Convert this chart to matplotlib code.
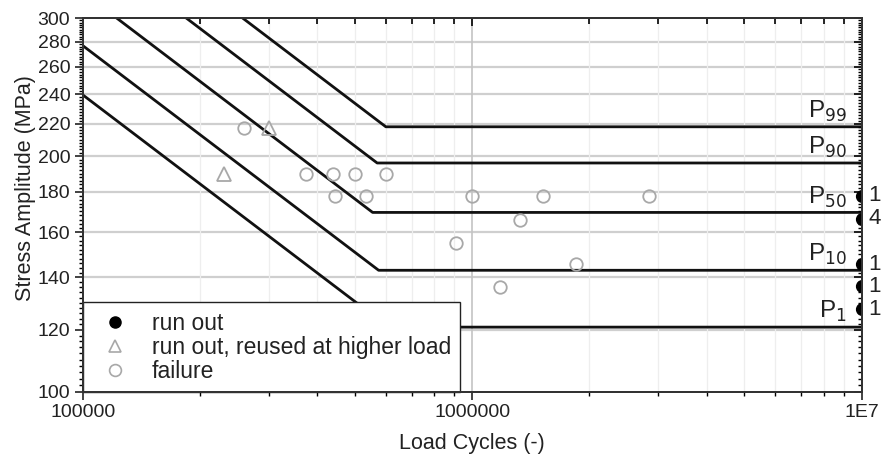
import numpy as np
import matplotlib
matplotlib.use("Agg")
import matplotlib.pyplot as plt
from matplotlib.ticker import FixedLocator, FixedFormatter, NullFormatter
from matplotlib.lines import Line2D

plt.rcParams['font.family'] = ['Liberation Sans', 'DejaVu Sans']
plt.rcParams['text.color'] = '#222222'

# S-N curves: knee (endurance) stress, knee cycles, Basquin exponent
curve_names = ["P$_{99}$", "P$_{90}$", "P$_{50}$", "P$_{10}$", "P$_{1}$"]
knee_stress = [218, 196, 169.5, 143, 121]
knee_cycles = [6.0e5, 5.7e5, 5.55e5, 5.75e5, 6.1e5]
slope_k = 2.65

# failures
fail_n = [2.6e5, 3.75e5, 4.4e5, 5.0e5, 6.0e5, 4.45e5, 5.35e5, 1.0e6, 1.52e6, 2.85e6,
          1.33e6, 9.1e5, 1.85e6, 1.18e6]
fail_s = [217, 190, 190, 190, 190, 178, 178, 178, 178, 178, 166, 155, 145.5, 136]

# run outs reused at higher load
reuse_n = [2.3e5, 3.0e5]
reuse_s = [190, 217]

# run outs at 1E7 with their counts
runout_n = [1e7, 1e7, 1e7, 1e7, 1e7]
runout_s = [178, 166.5, 145.5, 136.5, 127.5]
runout_count = ["1", "4", "1", "1", "1"]

y_major = list(range(100, 301, 20))
y_minor = list(range(100, 301, 2))
x_major = [1e5, 1e6, 1e7]
x_major_labels = ["100000", "1000000", "1E7"]
x_minor = [m * 10 ** e for e in (5, 6) for m in range(2, 10)]

fig = plt.figure(figsize=(8.81, 4.65), dpi=100)
ax = fig.add_axes([0.094, 0.157, 0.884, 0.804])
ax.set_xscale('log')
ax.set_yscale('log')
ax.set_xlim(1e5, 1e7)
ax.set_ylim(100, 300)

# grid
for v in y_major[1:-1]:
    ax.axhline(v, color='#cfcfcf', lw=1.6, zorder=0)
for v in x_minor:
    ax.axvline(v, color='#eeeeee', lw=0.9, zorder=0)
ax.axvline(1e6, color='#c4c4c4', lw=1.2, zorder=0)

# curves
for name, sd, nd in zip(curve_names, knee_stress, knee_cycles):
    n_slope = np.logspace(5, np.log10(nd), 50)
    s_slope = sd * (n_slope / nd) ** (-1.0 / slope_k)
    n = np.concatenate([n_slope, [1e7]])
    s = np.concatenate([s_slope, [sd]])
    ax.plot(n, s, color='#111111', lw=2.0, zorder=3)
    ax.annotate(name, xy=(9.15e6, sd), xytext=(0, 2), textcoords='offset points',
                ha='right', va='bottom', fontsize=17.5, color='#222222', zorder=4)

gray = '#a8a8a8'
ax.plot(fail_n, fail_s, 'o', ms=9, mfc='none', mec=gray, mew=1.3, zorder=5)
ax.plot(reuse_n, reuse_s, '^', ms=10, mfc='none', mec=gray, mew=1.3, zorder=5)
ax.plot(runout_n, runout_s, 'o', ms=8.5, color='black', zorder=6, clip_on=True)
for n, s, c in zip(runout_n, runout_s, runout_count):
    ax.annotate(c, xy=(n, s), xytext=(5, 0), textcoords='offset points',
                ha='left', va='center', fontsize=16, color='#222222',
                annotation_clip=False)

# axes and ticks
ax.xaxis.set_major_locator(FixedLocator(x_major))
ax.xaxis.set_major_formatter(FixedFormatter(x_major_labels))
ax.xaxis.set_minor_locator(FixedLocator(x_minor))
ax.xaxis.set_minor_formatter(NullFormatter())
ax.yaxis.set_major_locator(FixedLocator(y_major))
ax.yaxis.set_major_formatter(FixedFormatter([str(v) for v in y_major]))
ax.yaxis.set_minor_locator(FixedLocator(y_minor))
ax.yaxis.set_minor_formatter(NullFormatter())
ax.tick_params(which='major', direction='out', length=6, width=1.2,
               labelsize=14, colors='#222222', pad=3)
ax.tick_params(which='minor', direction='out', length=3, width=1.0)

for side in ('top', 'right'):
    ax.spines[side].set_visible(False)
for sp in ax.spines.values():
    sp.set_linewidth(1.3)
    sp.set_color('#222222')

# inward ticks on top and right
axt = ax.twiny()
axt.set_xscale('log')
axt.set_xlim(1e5, 1e7)
axt.xaxis.set_major_locator(FixedLocator(x_major))
axt.xaxis.set_minor_locator(FixedLocator(x_minor))
axt.xaxis.set_major_formatter(NullFormatter())
axt.xaxis.set_minor_formatter(NullFormatter())
axt.tick_params(which='major', direction='in', length=6, width=1.2)
axt.tick_params(which='minor', direction='in', length=4, width=1.2)
axr = ax.twinx()
axr.set_yscale('log')
axr.set_ylim(100, 300)
axr.yaxis.set_major_locator(FixedLocator(y_major))
axr.yaxis.set_minor_locator(FixedLocator(y_minor))
axr.yaxis.set_major_formatter(NullFormatter())
axr.yaxis.set_minor_formatter(NullFormatter())
axr.tick_params(which='major', direction='in', length=6, width=1.2)
axr.tick_params(which='minor', direction='in', length=3, width=1.0)
for a in (axt, axr):
    for sp in a.spines.values():
        sp.set_linewidth(1.4)
        sp.set_color('#333333')

ax.set_xlabel("Load Cycles (-)", fontsize=15.5, color='#222222')
ax.set_ylabel("Stress Amplitude (MPa)", fontsize=15.5, color='#222222')
ax.xaxis.set_label_coords(0.5, -0.11)
ax.yaxis.set_label_coords(-0.06, 0.545)

handles = [
    Line2D([], [], ls='none', marker='o', ms=8, color='black'),
    Line2D([], [], ls='none', marker='^', ms=9, mfc='none', mec=gray, mew=1.2),
    Line2D([], [], ls='none', marker='o', ms=8.5, mfc='none', mec=gray, mew=1.2),
]
labels = ["run out", "run out, reused at higher load", "failure"]
leg = ax.legend(handles, labels, loc='lower left', borderaxespad=0, fontsize=16.5,
                frameon=True, fancybox=False, edgecolor='#222222', framealpha=1,
                handletextpad=0.6, labelspacing=0.05, borderpad=0.4, handlelength=2.0)
leg.get_frame().set_linewidth(1.0)
leg.set_zorder(10)

fig.savefig("out.png", dpi=100)
